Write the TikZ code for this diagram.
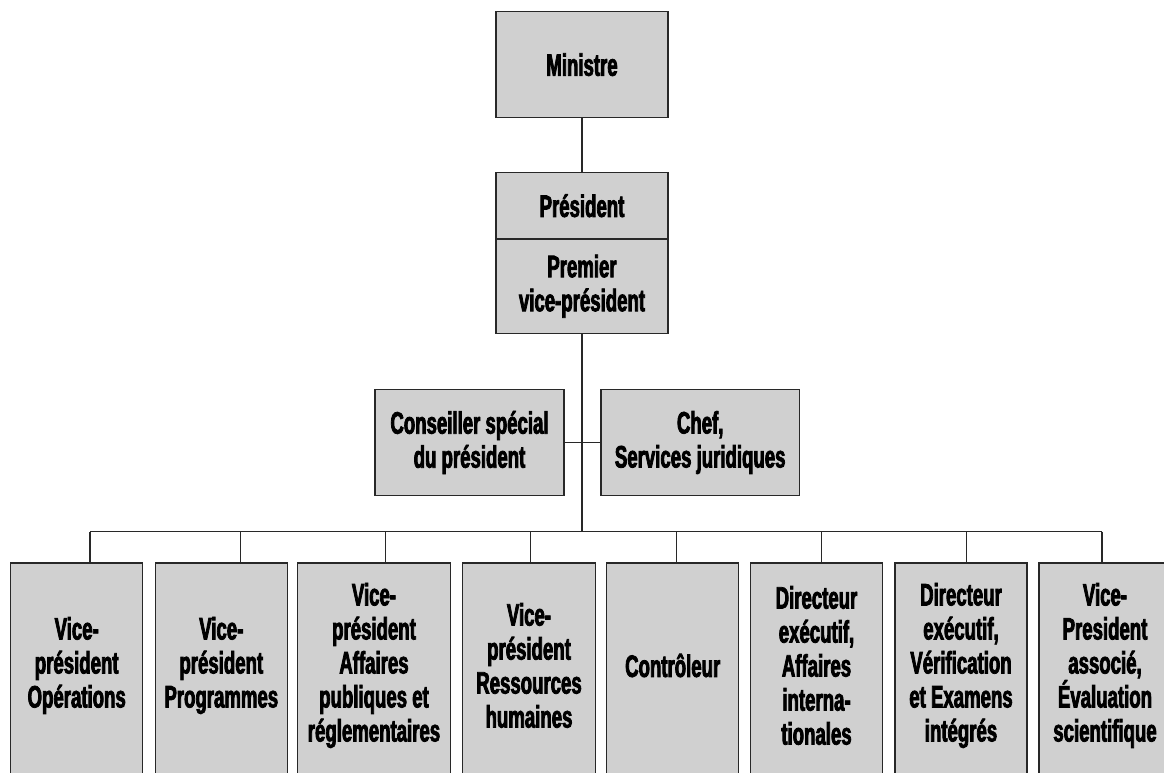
\documentclass[tikz,border=0pt]{standalone}
\usepackage{fontspec}
\newfontfamily\orgfont{Liberation Sans Bold}[FakeStretch=0.6,FakeBold=2.5]
\definecolor{boxfill}{RGB}{208,208,208}
\definecolor{boxline}{RGB}{40,40,40}
\tikzset{
    orgbox/.style={draw=boxline, fill=boxfill, line width=1.5pt, inner sep=0pt,
        align=center, font=\orgfont\fontsize{31}{34}\selectfont},
    unitbox/.style={orgbox, minimum height=217pt},
    unittext/.style={inner sep=0pt, align=center, font=\orgfont\fontsize{31}{34}\selectfont},
    link/.style={draw=boxline, line width=1.5pt},
}
\begin{document}
\begin{tikzpicture}[x=1pt,y=-1pt]
    \path[use as bounding box, clip] (0,0) rectangle (1164,773);
    % top of the chart
    \node[orgbox, minimum width=172pt, minimum height=106pt] (ministre) at (582,64.7) {Ministre};
    \node[orgbox, minimum width=172pt, minimum height=66.7pt] (president) at (582,205.7) {Président};
    \node[orgbox, minimum width=172pt, minimum height=94.3pt] (premier) at (582,286.2) {Premier\\vice-président};
    \node[orgbox, minimum width=189pt, minimum height=106.4pt] (conseiller) at (469.5,442.5) {Conseiller spécial\\du président};
    \node[orgbox, minimum width=198.3pt, minimum height=106.4pt] (chef) at (700.2,442.5) {Chef,\\Services juridiques};
    \coordinate (bus) at (582,531.7);
    \draw[link] (ministre) -- (president);
    \draw[link] (premier.south) -- (bus);
    \draw[link] (conseiller.east) -- (chef.west);
    % units
    \node[unitbox, minimum width=132pt] (v1) at (76.7,671.3) {};
    \node[unitbox, minimum width=132pt] (v2) at (221.3,671.3) {};
    \node[unitbox, minimum width=153.4pt] (v3) at (374,671.3) {};
    \node[unitbox, minimum width=132.6pt] (v4) at (529,671.3) {};
    \node[unitbox, minimum width=132pt] (v5) at (672.7,671.3) {};
    \node[unitbox, minimum width=131.6pt] (v6) at (816.5,671.3) {};
    \node[unitbox, minimum width=132pt] (v7) at (961,671.3) {};
    \node[unitbox, minimum width=132pt] (v8) at (1105,671.3) {};
    \node[unittext] at ([yshift=5.8pt]v1.center) {Vice-\\président\\Opérations};
    \node[unittext] at ([yshift=5.8pt]v2.center) {Vice-\\président\\Programmes};
    \node[unittext] at ([yshift=5.8pt]v3.center) {Vice-\\président\\Affaires\\publiques et\\réglementaires};
    \node[unittext] at ([yshift=5.8pt]v4.center) {Vice-\\président\\Ressources\\humaines};
    \node[unittext] at ([yshift=5.8pt]v5.center) {Contrôleur};
    \node[unittext] at ([yshift=5.8pt]v6.center) {Directeur\\exécutif,\\Affaires\\interna-\\tionales};
    \node[unittext] at ([yshift=5.8pt]v7.center) {Directeur\\exécutif,\\Vérification\\et Examens\\intégrés};
    \node[unittext] at ([yshift=5.8pt]v8.center) {Vice-\\President\\associé,\\Évaluation\\scientifique};
    \foreach \px [count=\i] in {90,240.7,385.7,530.7,676.3,821.3,966.3,1102}{
        \coordinate (d\i) at (\px,531.7);
        \draw[link] (d\i) -- (d\i |- v\i.north);
    }
    \draw[link] (d1) -- (d8);
\end{tikzpicture}
\end{document}
